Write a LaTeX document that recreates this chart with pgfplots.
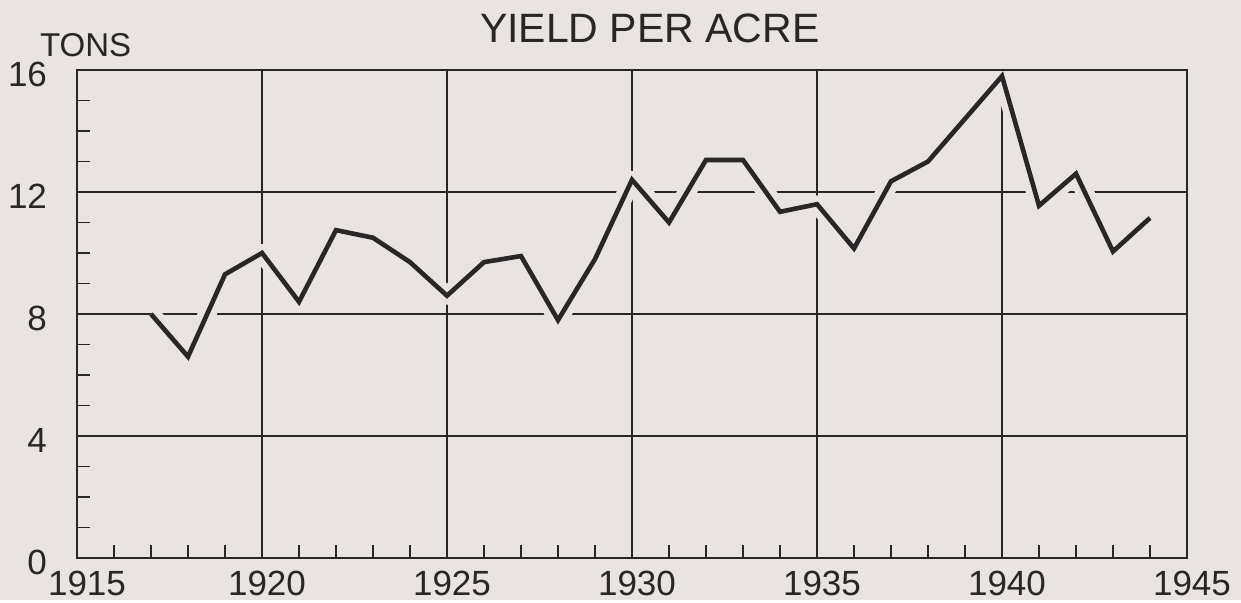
\documentclass[border=0pt]{standalone}
\usepackage{fontspec}
\setmainfont{Liberation Sans}
\usepackage{pgfplots}
\pgfplotsset{compat=1.18}
\definecolor{bg}{RGB}{233,227,225}
\definecolor{ink}{RGB}{40,38,38}
\pgfplotsset{layers/mylayers/.define layer set={axis background,axis grid,pre main,main,axis ticks,axis lines,axis tick labels,axis descriptions,axis foreground}{}}
\begin{document}
\begin{tikzpicture}
\fill[bg] (-38.5pt,-21pt) rectangle (582pt,279pt);
\begin{axis}[
  set layers=mylayers,
  at={(0,0)}, anchor=south west,
  scale only axis, width=555pt, height=244pt,
  xmin=1915, xmax=1945, ymin=0, ymax=16,
  xtick={1915,1920,1925,1930,1935,1940,1945},
  xticklabels={\hspace*{5pt}1915,1920,1925,1930,1935,1940,1945},
  ytick={0,4,8,12,16},
  yticklabels={0,4,8,12,16},
  minor xtick={1916,1917,1918,1919,1921,1922,1923,1924,1926,1927,1928,1929,1931,1932,1933,1934,1936,1937,1938,1939,1941,1942,1943,1944},
  minor ytick={1,2,3,5,6,7,9,10,11,13,14,15},
  xtick pos=bottom, ytick pos=left,
  major tick length=0pt, minor tick length=6.5pt,
  tick align=inside,
  every minor tick/.style={ink, line width=0.8pt},
  grid=major,
  major grid style={ink, line width=0.75pt},
  axis line style={ink, line width=1pt},
  xticklabel style={font=\fontsize{17.5}{17.5}\selectfont, text=ink, xshift=2.5pt, yshift=-3pt},
  yticklabel style={font=\fontsize{17.5}{17.5}\selectfont, text=ink, xshift=-11.5pt, yshift=-2pt},
  clip mode=individual,
]
\addplot[bg, line width=9pt, line join=round] coordinates {
(1917,8.0) (1918,6.6) (1919,9.3) (1920,10.0) (1921,8.4) (1922,10.75) (1923,10.5) (1924,9.7) (1925,8.6)
(1926,9.7) (1927,9.9) (1928,7.8) (1929,9.8) (1930,12.4) (1931,11.0) (1932,13.05) (1933,13.05) (1934,11.35)
(1935,11.6) (1936,10.15) (1937,12.35) (1938,13.0) (1939,14.4) (1940,15.8) (1941,11.55) (1942,12.6) (1943,10.05) (1944,11.15)
};
\addplot[ink, line width=2.3pt, line join=miter] coordinates {
(1917,8.0) (1918,6.6) (1919,9.3) (1920,10.0) (1921,8.4) (1922,10.75) (1923,10.5) (1924,9.7) (1925,8.6)
(1926,9.7) (1927,9.9) (1928,7.8) (1929,9.8) (1930,12.4) (1931,11.0) (1932,13.05) (1933,13.05) (1934,11.35)
(1935,11.6) (1936,10.15) (1937,12.35) (1938,13.0) (1939,14.4) (1940,15.8) (1941,11.55) (1942,12.6) (1943,10.05) (1944,11.15)
};
\draw[ink, line width=1pt] (rel axis cs:0,1) -- (rel axis cs:1,1);
\node[font=\fontsize{20.5}{20.5}\selectfont, text=ink] at (rel axis cs:0.516,1) [yshift=21pt] {YIELD PER ACRE};
\node[font=\fontsize{16.5}{16.5}\selectfont, text=ink, anchor=base west] at (rel axis cs:0,1) [xshift=-22pt, yshift=6.5pt] {TONS};
\end{axis}
\end{tikzpicture}
\end{document}
